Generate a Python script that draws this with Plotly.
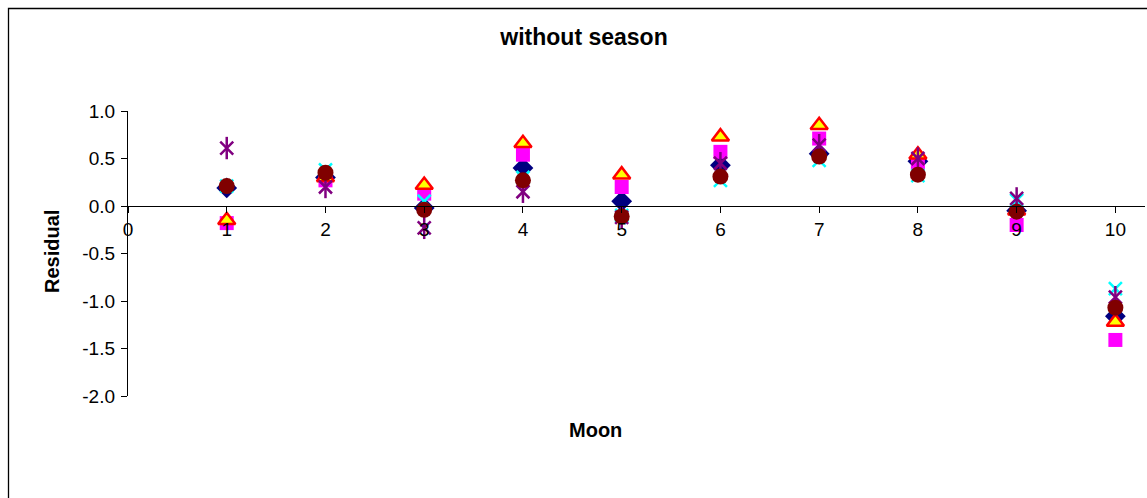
import plotly.graph_objects as go

# Residuals by moon, six series
moon = [1, 2, 3, 4, 5, 6, 7, 8, 9, 10]
res_diamond = [0.19, 0.30, -0.02, 0.40, 0.05, 0.43, 0.55, 0.47, -0.05, -1.16]
res_square = [-0.18, 0.27, 0.13, 0.54, 0.20, 0.57, 0.71, 0.45, -0.20, -1.41]
res_triangle = [-0.15, 0.30, 0.22, 0.66, 0.33, 0.73, 0.85, 0.54, -0.05, -1.22]
res_cross = [0.21, 0.38, 0.05, 0.30, -0.10, 0.27, 0.48, 0.32, 0.06, -0.87]
res_star = [0.61, 0.20, -0.23, 0.15, -0.12, 0.45, 0.64, 0.50, 0.08, -0.96]
res_circle = [0.21, 0.35, -0.04, 0.27, -0.11, 0.31, 0.52, 0.33, -0.06, -1.07]

y_ticks = [1.0, 0.5, 0.0, -0.5, -1.0, -1.5, -2.0]
y_tick_text = [f"{v:.1f}" for v in y_ticks]
x_ticks = list(range(0, 11))

W, H = 1147, 498
ML, MR, MT, MB = 128, 2, 111, 102
X_RANGE = [0, 10.3]
Y_RANGE = [-2, 1]

fig = go.Figure()

fig.add_trace(go.Scatter(
    x=moon, y=res_diamond, mode="markers",
    marker=dict(symbol="diamond", size=16, color="#000080",
                line=dict(width=0))))
fig.add_trace(go.Scatter(
    x=moon, y=res_square, mode="markers",
    marker=dict(symbol="square", size=14, color="#FF00FF",
                line=dict(width=0))))
fig.add_trace(go.Scatter(
    x=moon, y=res_triangle, mode="markers",
    marker=dict(symbol="triangle-up", size=15, color="#FFFF00",
                line=dict(width=2.5, color="#FF0000"))))
fig.add_trace(go.Scatter(
    x=moon, y=res_cross, mode="markers",
    marker=dict(symbol="x-thin-open", size=13, color="#00FFFF",
                line=dict(width=2.5, color="#00FFFF"))))
# asterisk drawn as an X plus a vertical stroke
fig.add_trace(go.Scatter(
    x=moon, y=res_star, mode="markers",
    marker=dict(symbol="x-thin-open", size=13, color="#800080",
                line=dict(width=2.5, color="#800080"))))
fig.add_trace(go.Scatter(
    x=moon, y=res_star, mode="markers",
    marker=dict(symbol="line-ns-open", size=16, color="#800080",
                line=dict(width=2.5, color="#800080"))))
fig.add_trace(go.Scatter(
    x=moon, y=res_circle, mode="markers",
    marker=dict(symbol="circle", size=16, color="#800000",
                line=dict(width=0))))

pw = W - ML - MR
ph = H - MT - MB
zero_pos = (0 - Y_RANGE[0]) / (Y_RANGE[1] - Y_RANGE[0])

font = dict(family="Liberation Sans, Arial, sans-serif", size=19, color="#000000")

fig.update_layout(
    width=W, height=H,
    margin=dict(l=ML, r=MR, t=MT, b=MB),
    paper_bgcolor="#FFFFFF", plot_bgcolor="#FFFFFF",
    showlegend=False,
    font=font,
    title=dict(text="<b>without season</b>", x=(584 - ML) / pw, xref="paper",
               xanchor="center", y=1 - 37 / H, yanchor="middle",
               font=dict(size=23)),
    xaxis=dict(
        range=X_RANGE, tickvals=x_ticks, showgrid=False, zeroline=False,
        showline=True, linecolor="#000000", linewidth=1.3,
        ticks="outside", ticklen=6, tickcolor="#000000", tickwidth=1.3,
        anchor="free", position=zero_pos,
        tickfont=dict(size=19),
    ),
    yaxis=dict(
        range=Y_RANGE, tickvals=y_ticks, ticktext=y_tick_text, showgrid=False,
        zeroline=False, showline=True, linecolor="#000000", linewidth=1.3,
        ticks="outside", ticklen=6, tickcolor="#000000", tickwidth=1.3,
        tickfont=dict(size=19), ticklabelstandoff=2,
    ),
    annotations=[
        dict(text="<b>Moon</b>", xref="paper", yref="paper",
             x=(595 - ML) / pw, y=-(430 - MT - ph) / ph, xanchor="center",
             yanchor="middle", showarrow=False, font=dict(size=20)),
        dict(text="<b>Residual</b>", xref="paper", yref="paper",
             x=(52 - ML) / pw, y=1 - (252 - MT) / ph, xanchor="center",
             yanchor="middle", showarrow=False, textangle=-90,
             font=dict(size=20)),
    ],
    shapes=[
        dict(type="rect", xref="paper", yref="paper",
             x0=(8.5 - ML) / pw, x1=(W + 5 - ML) / pw,
             y0=1 - (H + 5 - MT) / ph, y1=1 - (8.5 - MT) / ph,
             line=dict(color="#000000", width=1.3), fillcolor="rgba(0,0,0,0)",
             layer="below"),
    ],
)

fig.write_html("out.html")
